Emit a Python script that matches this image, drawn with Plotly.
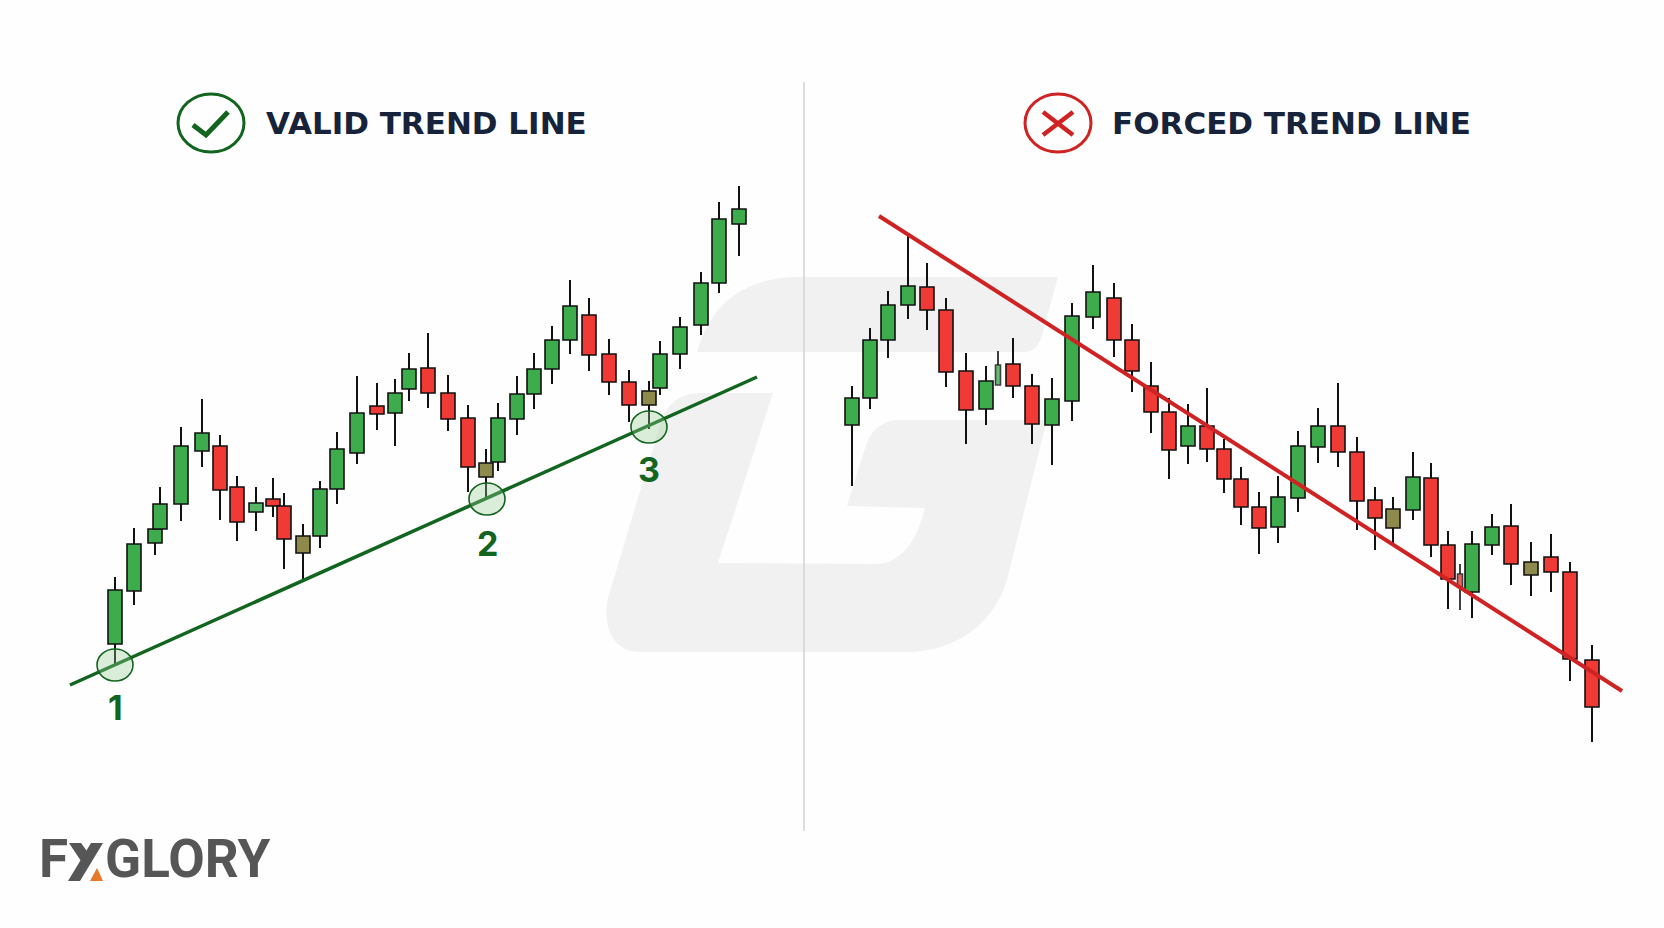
import plotly.graph_objects as go

W = 1664
H = 928

# left panel candles (axis is hidden, so units are arbitrary)
valid_x = [115, 134, 155, 160, 181, 202, 220, 237, 256, 273, 284, 303, 320, 337, 357, 377, 395, 409,
           428, 448, 468, 486, 498, 517, 534, 552, 570, 589, 609, 629, 649, 660, 680, 701, 719, 739]
valid_open = [284, 337, 385, 399, 424, 477, 482, 441, 416, 429, 422, 375, 392, 439, 475, 522, 515, 539,
              560, 535, 510, 451, 466, 509, 534, 559, 588, 613, 574, 546, 523, 540, 574, 603, 645, 704]
valid_high = [351, 400, 399, 441, 501, 529, 493, 452, 441, 450, 435, 404, 447, 496, 552, 545, 549, 575,
              595, 553, 523, 479, 525, 552, 575, 602, 648, 630, 589, 558, 547, 587, 611, 656, 726, 742]
valid_low = [262, 323, 373, 399, 407, 461, 408, 387, 397, 411, 359, 348, 380, 424, 464, 498, 482, 527,
             520, 497, 436, 430, 457, 493, 519, 544, 574, 557, 533, 506, 499, 533, 559, 593, 635, 672]
valid_close = [338, 384, 399, 424, 482, 495, 438, 406, 425, 422, 389, 392, 439, 479, 515, 514, 535, 559,
               535, 509, 461, 465, 510, 534, 559, 588, 622, 573, 546, 523, 537, 574, 601, 645, 709, 719]
valid_kind = list("GGGGGGRRLRRBGGGRGGRRRBGGGGGRRRBGGGGG")

# right panel candles
forced_x = [852, 870, 888, 908, 927, 946, 966, 986, 1013, 1032, 1052, 1072, 1093, 1114, 1132, 1151, 1169, 1188,
            1207, 1224, 1241, 1259, 1278, 1298, 1318, 1338, 1357, 1375, 1393, 1413, 1431, 1448, 1472, 1492,
            1511, 1531, 1551, 1570, 1592]
forced_open = [503, 530, 588, 623, 641, 618, 557, 519, 564, 542, 503, 527, 611, 630, 588, 542, 516, 482,
               502, 479, 449, 421, 401, 430, 481, 502, 476, 428, 400, 418, 450, 383, 336, 383,
               402, 353, 371, 356, 268]
forced_high = [542, 600, 637, 692, 665, 630, 575, 562, 590, 554, 550, 625, 663, 645, 604, 566, 530, 524,
               540, 489, 461, 436, 452, 497, 520, 545, 491, 441, 431, 476, 465, 397, 397, 414,
               424, 386, 394, 366, 283]
forced_low = [442, 519, 570, 609, 598, 541, 484, 503, 530, 484, 463, 507, 599, 571, 536, 495, 449, 464,
              466, 435, 403, 374, 385, 416, 465, 461, 398, 378, 383, 408, 371, 319, 310, 373,
              343, 332, 336, 247, 186]
forced_close = [530, 588, 623, 642, 618, 556, 518, 547, 542, 504, 529, 612, 636, 588, 557, 516, 478, 502,
                479, 449, 421, 400, 431, 482, 502, 476, 427, 410, 419, 451, 383, 349, 384, 401,
                364, 366, 356, 269, 221]
forced_kind = list("GGGGRRRGRRGGGRRRRGRRRRGGGRRRBGRRGGRBRRR")

# half hidden slivers on the right panel
sliver_x = [998, 1460]
sliver_open = [543, 354]
sliver_high = [577, 364]
sliver_low = [543, 318]
sliver_close = [563, 341]

# trend lines
valid_line_x = [70, 757]
valid_line_y = [243, 551]
forced_line_x = [879, 1622]
forced_line_y = [712, 237]

touch_x = [115, 487, 649]
touch_y = [263, 429, 501]
touch_labels = ["1", "2", "3"]
touch_label_y = [221, 385, 459]

colors = {"G": "#3dac4d", "L": "#55b868", "R": "#ef3a36", "B": "#8e8a4c"}
wick_color = "#111111"
dark_green = "#12651f"
line_red = "#cf2323"
title_color = "#16233a"
mark_color = "#f1f1f1"
logo_color = "#565656"


def flip(y):
    return H - y


def make_path(points):
    # points are in picture pixels, C means a bezier with two control points
    out = ""
    for p in points:
        if p[0] == "C":
            out += "C%s,%s %s,%s %s,%s " % (p[1], flip(p[2]), p[3], flip(p[4]), p[5], flip(p[6]))
        else:
            out += "%s%s,%s " % (p[0], p[1], flip(p[2]))
    return out + "Z"


def candles(x, o, h, l, c, kind, width=14):
    bottoms = [min(a, b) for a, b in zip(o, c)]
    tops = [max(a, b) for a, b in zip(o, c)]
    body = go.Bar(x=x, y=[t - b for t, b in zip(tops, bottoms)], base=bottoms, width=width,
                  marker=dict(color=[colors[k] for k in kind], line=dict(color=wick_color, width=1.6)),
                  hoverinfo="skip")
    wx, wy = [], []
    for i in range(len(x)):
        wx += [x[i], x[i], None, x[i], x[i], None]
        wy += [h[i], tops[i], None, bottoms[i], l[i], None]
    wicks = go.Scatter(x=wx, y=wy, mode="lines", line=dict(color=wick_color, width=2), hoverinfo="skip")
    return [body, wicks]


fig = go.Figure()
for tr in candles(valid_x, valid_open, valid_high, valid_low, valid_close, valid_kind):
    fig.add_trace(tr)
for tr in candles(forced_x, forced_open, forced_high, forced_low, forced_close, forced_kind):
    fig.add_trace(tr)
for tr in candles(sliver_x, sliver_open, sliver_high, sliver_low, sliver_close, ["G", "R"], width=5):
    tr.update(opacity=0.8)
    fig.add_trace(tr)

fig.add_trace(go.Scatter(x=valid_line_x, y=valid_line_y, mode="lines",
                         line=dict(color=dark_green, width=3.5), hoverinfo="skip"))
fig.add_trace(go.Scatter(x=forced_line_x, y=forced_line_y, mode="lines",
                         line=dict(color=line_red, width=4), hoverinfo="skip"))

shapes = []
# watermark
shapes.append(dict(type="path", layer="below", fillcolor=mark_color, line_width=0, path=make_path([
    ("M", 800, 277), ("L", 1058, 277), ("L", 1043, 332), ("C", 1040, 345, 1035, 352, 1022, 352), ("L", 697, 352),
    ("C", 705, 325, 725, 277, 800, 277)])))
shapes.append(dict(type="path", layer="below", fillcolor=mark_color, line_width=0, path=make_path([
    ("M", 773, 393), ("L", 718, 563), ("L", 875, 564), ("C", 895, 564, 915, 550, 925, 508), ("L", 847, 506),
    ("L", 866, 445), ("C", 872, 428, 885, 420, 900, 420), ("L", 1047, 420), ("L", 1007, 580),
    ("C", 995, 620, 960, 652, 905, 652), ("L", 640, 652), ("C", 615, 652, 602, 630, 608, 598),
    ("L", 660, 425), ("C", 665, 405, 680, 393, 700, 393)])))
# divider
shapes.append(dict(type="line", layer="below", x0=804, x1=804, y0=flip(82), y1=flip(831),
                   line=dict(color="#d2d2d2", width=1.5)))
# touch circles
for i in range(len(touch_x)):
    shapes.append(dict(type="circle", layer="above", x0=touch_x[i] - 18, x1=touch_x[i] + 18,
                       y0=touch_y[i] - 16, y1=touch_y[i] + 16,
                       fillcolor="rgba(150,205,150,0.35)", line=dict(color=dark_green, width=1.6)))
# header icons
shapes.append(dict(type="circle", x0=178, x1=244, y0=flip(152), y1=flip(94), line=dict(color=dark_green, width=3)))
shapes.append(dict(type="path", line=dict(color=dark_green, width=5),
                   path="M193,%s L206,%s L228,%s" % (flip(125), flip(135), flip(112))))
shapes.append(dict(type="circle", x0=1025, x1=1091, y0=flip(152), y1=flip(94), line=dict(color=line_red, width=3)))
shapes.append(dict(type="line", x0=1043, x1=1073, y0=flip(112), y1=flip(135), line=dict(color=line_red, width=4.5)))
shapes.append(dict(type="line", x0=1073, x1=1043, y0=flip(112), y1=flip(135), line=dict(color=line_red, width=4.5)))
# the logo X is drawn, it has an orange foot
shapes.append(dict(type="path", layer="above", fillcolor=logo_color, line_width=0,
                   path=make_path([("M", 91, 843), ("L", 103, 843), ("L", 80, 881), ("L", 68, 881)])))
shapes.append(dict(type="path", layer="above", fillcolor=logo_color, line_width=0,
                   path=make_path([("M", 69, 843), ("L", 81, 843), ("L", 89, 854), ("L", 83, 864)])))
shapes.append(dict(type="path", layer="above", fillcolor="#e8792a", line_width=0,
                   path=make_path([("M", 90, 881), ("L", 97, 868), ("L", 103, 881)])))

annotations = [
    dict(x=264, y=flip(123), text="VALID TREND LINE", xanchor="left", yanchor="middle", showarrow=False,
         font=dict(family="DejaVu Sans", size=31, weight=700, color=title_color)),
    dict(x=1110, y=flip(123), text="FORCED TREND LINE", xanchor="left", yanchor="middle", showarrow=False,
         font=dict(family="DejaVu Sans", size=31, weight=700, color=title_color)),
    dict(x=37, y=flip(859), text="F", xanchor="left", yanchor="middle", showarrow=False,
         font=dict(family="Roboto", size=53, weight=700, color=logo_color)),
    dict(x=103, y=flip(859), text="GLORY", xanchor="left", yanchor="middle", showarrow=False,
         font=dict(family="Roboto", size=53, weight=700, color=logo_color)),
]
for i in range(len(touch_x)):
    annotations.append(dict(x=touch_x[i], y=touch_label_y[i], text=touch_labels[i], showarrow=False,
                            font=dict(family="Inter", size=34, weight=700, color=dark_green)))

fig.update_layout(width=W, height=H, margin=dict(l=0, r=0, t=0, b=0), showlegend=False,
                  paper_bgcolor="#fefefe", plot_bgcolor="#fefefe", barmode="overlay",
                  shapes=shapes, annotations=annotations)
fig.update_xaxes(range=[0, W], visible=False)
fig.update_yaxes(range=[0, H], visible=False)

fig.write_html("out.html", config={"displayModeBar": False}, post_script="document.body.style.margin='0';")
